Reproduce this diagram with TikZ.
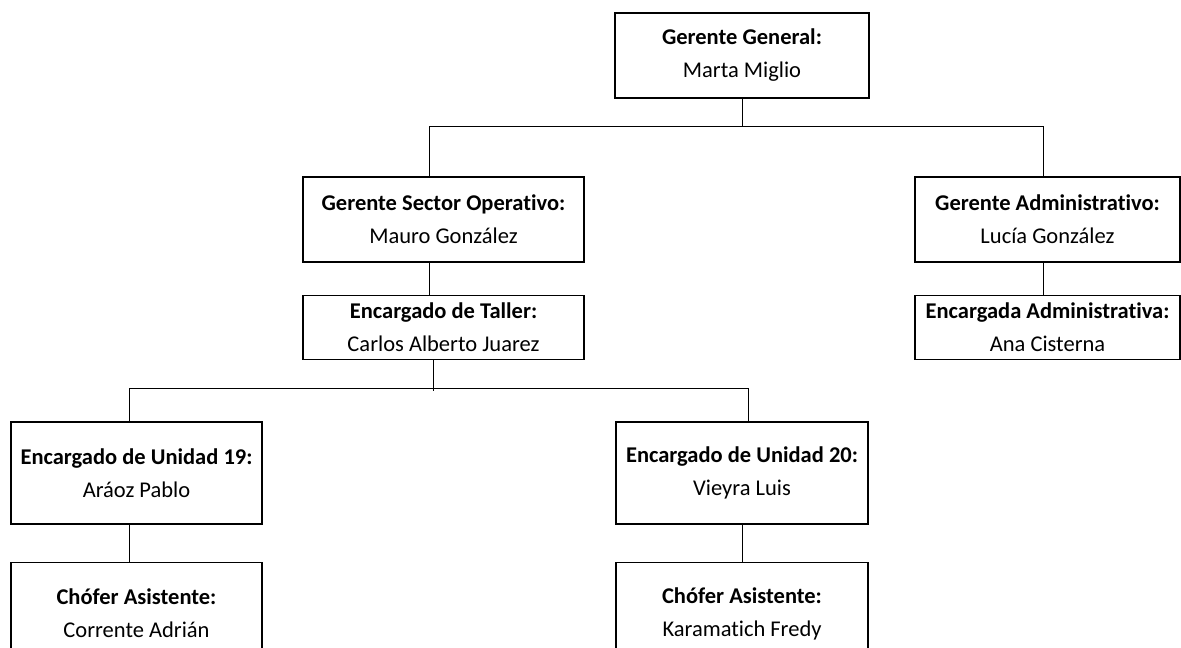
\documentclass[tikz,border=0pt]{standalone}
\usepackage{fontspec}
\setmainfont{Carlito}[Ligatures=NoCommon]
\usetikzlibrary{positioning}

\begin{document}
\begin{tikzpicture}[x=1pt, y=-1pt,
  caja/.style={draw, line width=1.6pt, align=center, inner sep=0pt,
    font=\fontsize{22.5}{33}\selectfont},
  linea/.style={line width=0.9pt}]
\useasboundingbox (0,0) rectangle (1181,648);

% gerencia general
\node[caja, minimum width=254pt, minimum height=85pt] (gg) at (742,55.5)
  {\textbf{Gerente General:}\\Marta Miglio};

% gerentes de sector
\node[caja, minimum width=281pt, minimum height=85pt] (gso) at (443.5,219.5)
  {\textbf{Gerente Sector Operativo:}\\Mauro González};
\node[caja, minimum width=265pt, minimum height=85pt] (gad) at (1047.5,219.5)
  {\textbf{Gerente Administrativo:}\\Lucía González};

\coordinate (b1l) at (429,126);
\coordinate (b1r) at (1043,126);
\draw[linea] (gg.south) -- (gg.south |- b1l);
\draw[linea] (gso.north -| b1l) -- (b1l) -- (b1r) -- (gad.north -| b1r);

% encargados
\node[caja, minimum width=281pt, minimum height=64pt, below=32pt of gso]
  (taller) {\textbf{Encargado de Taller:}\\Carlos Alberto Juarez};
\draw[linea] (gso.south -| b1l) -- (taller.north -| b1l);

\node[caja, minimum width=265pt, minimum height=64pt, below=32pt of gad]
  (eadm) {\textbf{Encargada Administrativa:}\\Ana Cisterna};
\draw[linea] (gad.south -| b1r) -- (eadm.north -| b1r);

% unidades
\node[caja, minimum width=251pt, minimum height=102pt] (u19) at (136.5,473)
  {\textbf{Encargado de Unidad 19:}\\Aráoz Pablo};
\node[caja, minimum width=252pt, minimum height=102pt] (u20) at (742,473)
  {\textbf{Encargado de Unidad 20:}\\Vieyra Luis};

\coordinate (b2m) at (433,391);
\coordinate (b2l) at (129,388);
\coordinate (b2r) at (748,388);
\draw[linea] (taller.south -| b2m) -- (b2m);
\draw[linea] (u19.north -| b2l) -- (b2l) -- (b2r) -- (u20.north -| b2r);

% choferes
\node[caja, minimum width=251pt, minimum height=102pt, below=37pt of u19]
  (ch19) {\textbf{Chófer Asistente:}\\Corrente Adrián};
\draw[linea] (u19.south -| b2l) -- (ch19.north -| b2l);

\node[caja, minimum width=252pt, minimum height=102pt, below=37pt of u20]
  (ch20) {\textbf{Chófer Asistente:}\\Karamatich Fredy};
\draw[linea] (u20.south) -- (ch20.north);
\end{tikzpicture}
\end{document}
